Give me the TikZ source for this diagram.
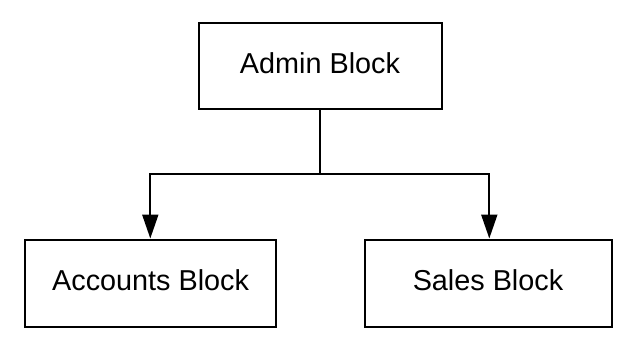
\documentclass[tikz,border=0pt]{standalone}
\usepackage{fontspec}
\setmainfont{Liberation Sans}
\usetikzlibrary{arrows.meta}
\begin{document}
\begin{tikzpicture}[x=1pt,y=1pt,
  blockbox/.style={draw=black,line width=2pt,fill=white,inner sep=0pt,
    minimum height=87pt,text height=21pt,text depth=6pt,
    font=\fontsize{28.8}{34}\selectfont},
  conn/.style={draw=black,line width=2pt},
  arr/.style={conn,-{Triangle[width=16pt,length=24pt]}}]
\useasboundingbox (0,0) rectangle (640,-349);
\node[blockbox,minimum width=243pt,minimum height=86pt] (admin) at (320,-65.8) {Admin Block};
\node[blockbox,minimum width=251pt] (acc) at (150.6,-283) {Accounts Block};
\node[blockbox,minimum width=247pt] (sales) at (488,-283) {Sales Block};
\coordinate (j) at (320,-174);
\draw[conn] (admin.south) -- (j);
\draw[arr] (j) -| ([xshift=-0.3pt]acc.north);
\draw[arr] (j) -| ([xshift=1.3pt]sales.north);
\end{tikzpicture}
\end{document}
